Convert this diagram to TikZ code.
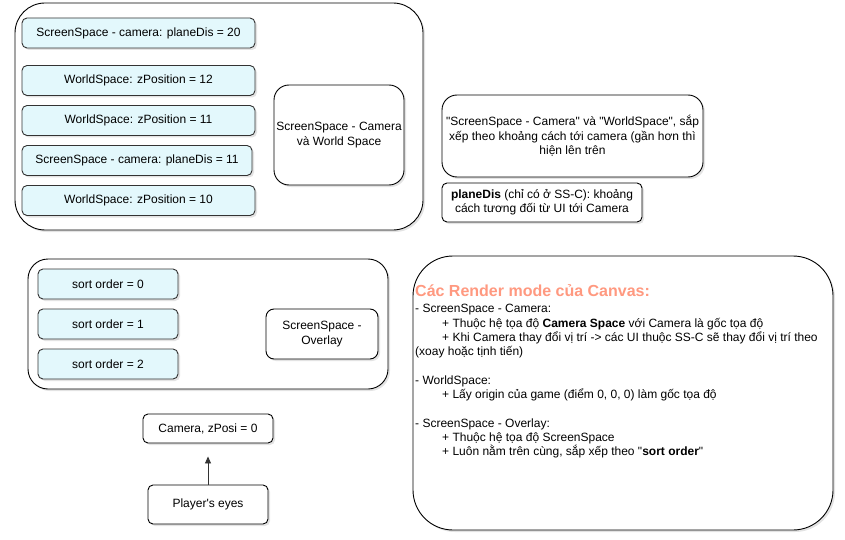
\documentclass[tikz,border=0pt]{standalone}
\usepackage{fontspec}
\setmainfont{Liberation Sans}[Ligatures=TeXOff]
\usetikzlibrary{shadows,arrows.meta}
\definecolor{cyanfill}{HTML}{E3F8FC}
\definecolor{salmon}{HTML}{FF9980}
\definecolor{edge}{HTML}{333333}
\begin{document}
\begin{tikzpicture}[x=1pt,y=-1pt,
  every node/.style={font=\fontsize{12}{14.3}\selectfont},
  box/.style={draw=black,line width=0.9pt,rounded corners=#1,fill=white,
    drop shadow={shadow xshift=2pt,shadow yshift=-2pt,opacity=0.22},
    inner sep=2pt,align=center},
  box/.default=5pt,
  item/.style={box,fill=cyanfill,draw=edge},
  conn/.style={draw=edge,line width=0.9pt,-{Triangle[length=7pt,width=6pt]}}
]
\useasboundingbox (0,0) rectangle (845,540);
% top container
\node[box=30pt,minimum width=408pt,minimum height=227pt] (topbox) at (219,116.5) {};
\node[item,minimum width=233pt,minimum height=30pt] (sc20) at (138.5,33) {ScreenSpace - camera: planeDis = 20};
\node[item,minimum width=233pt,minimum height=30pt] (ws12) at (138.5,80.5) {WorldSpace: zPosition = 12};
\node[item,minimum width=233pt,minimum height=30pt] (ws11) at (138.5,120.5) {WorldSpace: zPosition = 11};
\node[item,minimum width=230pt,minimum height=30pt] (sc11) at (137,160.5) {ScreenSpace - camera: planeDis = 11};
\node[item,minimum width=233pt,minimum height=30pt] (ws10) at (138.5,200.5) {WorldSpace: zPosition = 10};
\node[box=15pt,minimum width=130pt,minimum height=100pt] (camws) at (339,135) {ScreenSpace - Camera\\và World Space};
% right notes
\node[box=15pt,minimum width=261pt,minimum height=82pt] (note1) at (572.5,136) {"ScreenSpace - Camera" và "WorldSpace", sắp\\xếp theo khoảng cách tới camera (gần hơn thì\\hiện lên trên};
\node[box=5pt,minimum width=200pt,minimum height=39pt] (note2) at (542,202.5) {\textbf{planeDis} (chỉ có ở SS-C): khoảng\\cách tương đối từ UI tới Camera};
% bottom container
\node[box=20pt,minimum width=360pt,minimum height=130pt] (botbox) at (208,324) {};
\node[item,minimum width=140pt,minimum height=30pt] (so0) at (108,284) {sort order = 0};
\node[item,minimum width=140pt,minimum height=30pt] (so1) at (108,324) {sort order = 1};
\node[item,minimum width=140pt,minimum height=30pt] (so2) at (108,364) {sort order = 2};
\node[box=8pt,minimum width=112pt,minimum height=50pt] (overlay) at (322,334) {ScreenSpace -\\Overlay};
% camera and eyes
\node[box=5pt,minimum width=130pt,minimum height=29pt] (cam) at (208,428.5) {Camera, zPosi = 0};
\node[box=5pt,minimum width=120pt,minimum height=39pt] (eyes) at (208,504.5) {Player's eyes};
\draw[conn,shorten >=13pt] (eyes.north) -- (cam.south);
% render modes
\node[box=40pt,minimum width=420pt,minimum height=274pt] (modes) at (623,393) {};
\node[anchor=north west,inner sep=0pt,align=left] (modestext) at (415,284) {%
{\fontsize{16}{19}\selectfont\bfseries\color{salmon}Các Render mode của Canvas:}\\[2.5pt]
- ScreenSpace - Camera:\\
\hspace*{27pt}+ Thuộc hệ tọa độ \textbf{Camera Space} với Camera là gốc tọa độ\\
\hspace*{27pt}+ Khi Camera thay đổi vị trí -> các UI thuộc SS-C sẽ thay đổi vị trí theo\\
(xoay hoặc tịnh tiến)\\[14.3pt]
- WorldSpace:\\
\hspace*{27pt}+ Lấy origin của game (điểm 0, 0, 0) làm gốc tọa độ\\[14.3pt]
- ScreenSpace - Overlay:\\
\hspace*{27pt}+ Thuộc hệ tọa độ ScreenSpace\\
\hspace*{27pt}+ Luôn nằm trên cùng, sắp xếp theo "\textbf{sort order}"};
\end{tikzpicture}
\end{document}
